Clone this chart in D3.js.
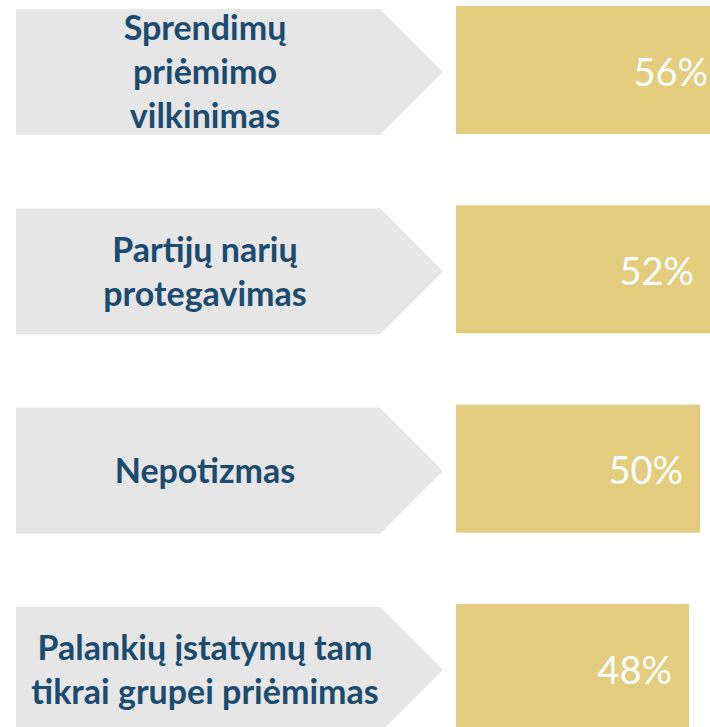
<!DOCTYPE html>
<html>
<head>
<meta charset="utf-8">
<script src="https://cdn.jsdelivr.net/npm/d3@7"></script>
<style>
  html, body { margin: 0; padding: 0; background: #fff; overflow: hidden; }
  svg { display: block; }
</style>
</head>
<body>
<svg width="710" height="727"></svg>
<script>
// categories, split into the lines shown in the arrows
var categories = ["Sprendimų priėmimo vilkinimas", "Partijų narių protegavimas", "Nepotizmas", "Palankių įstatymų tam tikrai grupei priėmimas"];
var labelLines = [
    ["Sprendimų", "priėmimo", "vilkinimas"],
    ["Partijų narių", "protegavimas"],
    ["Nepotizmas"],
    ["Palankių įstatymų tam", "tikrai grupei priėmimas"]
];
var values = [56, 52, 50, 48];

var svg = d3.select("svg"),
    width = +svg.attr("width"),
    height = +svg.attr("height");

var barLeft = 456;

var y = d3.scaleBand()
    .domain(categories)
    .range([6, 732])
    .paddingInner(0.358)
    .paddingOuter(0);

// bar end position
var x = d3.scaleLinear()
    .domain([48, 52])
    .range([689, 711]);

var rows = svg.append("g")
    .selectAll("g")
    .data(categories)
    .enter().append("g")
    .attr("transform", function (d) {
        return "translate(0," + y(d) + ")";
    });

var bh = y.bandwidth();

// grey arrows
rows.append("path")
    .attr("fill", "#e6e6e6")
    .attr("d", function () {
        var t = 3, b = t + bh - 2, m = (t + b) / 2;
        return "M16," + t + "L380," + t + "L443," + m + "L380," + b + "L16," + b + "Z";
    });

rows.append("text")
    .attr("text-anchor", "middle")
    .attr("fill", "#1b4b6f")
    .style("font-family", "Lato, 'Open Sans', sans-serif")
    .style("font-weight", "bold")
    .style("font-size", "34px")
    .each(function (d, i) {
        var lines = labelLines[i];
        var mid = 3 + (bh - 2) / 2;
        d3.select(this).selectAll("tspan")
            .data(lines)
            .enter().append("tspan")
            .attr("x", 205)
            .attr("y", function (l, j) {
                return mid + (j - (lines.length - 1) / 2) * 44;
            })
            .attr("dy", "0.36em")
            .text(function (l) { return l; });
    });

// value bars
rows.append("rect")
    .attr("x", barLeft)
    .attr("y", 0)
    .attr("height", bh)
    .attr("width", function (d, i) {
        return x(values[i]) - barLeft;
    })
    .attr("fill", "#e4cc7e");

rows.append("text")
    .attr("text-anchor", "end")
    .attr("fill", "#ffffff")
    .style("font-family", "Lato, 'Open Sans', sans-serif")
    .style("font-size", "38px")
    .attr("x", function (d, i) {
        return Math.min(x(values[i]) - 17, 708);
    })
    .attr("y", bh / 2 + 2)
    .attr("dy", "0.36em")
    .text(function (d, i) {
        return values[i] + "%";
    });
</script>
</body>
</html>
